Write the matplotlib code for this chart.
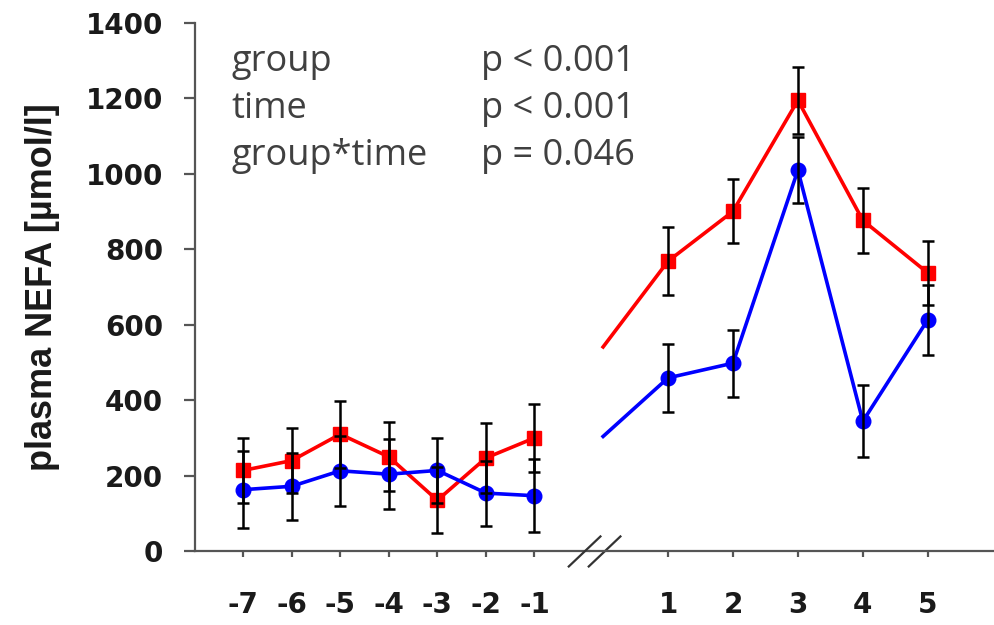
import numpy as np
import matplotlib
matplotlib.use('Agg')
import matplotlib.pyplot as plt

plt.rcParams['axes.unicode_minus'] = False

# time points (0 after the break is only the start of the line, no marker)
x_pre = [-7, -6, -5, -4, -3, -2, -1]
x_post = [0, 1, 2, 3, 4, 5]

# red group
red_pre = [214, 240, 310, 250, 135, 247, 300]
red_pre_err = [86, 86, 89, 91, 87, 93, 91]
red_post = [541, 768, 900, 1194, 876, 737]
red_post_err = [90, 85, 88, 87, 84]

# blue group
blue_pre = [163, 172, 213, 204, 214, 154, 147]
blue_pre_err = [102, 89, 93, 93, 86, 86, 96]
blue_post = [304, 459, 498, 1009, 344, 613]
blue_post_err = [90, 89, 88, 95, 93]

yticks = [0, 200, 400, 600, 800, 1000, 1200, 1400]
stats = [('group', 'p < 0.001'), ('time', 'p < 0.001'), ('group*time', 'p = 0.046')]

AXC = '#555555'
TXT = '#404040'
TICKFONT = dict(family='DejaVu Sans', weight='bold', size=20)

fig = plt.figure(figsize=(9.94, 6.25), dpi=100)
ax1 = fig.add_axes([0.196, 0.118, 0.397, 0.846])
ax2 = fig.add_axes([0.594, 0.118, 0.406, 0.846], sharey=ax1)
for ax in (ax1, ax2):
    ax.patch.set_visible(False)
    ax.spines['top'].set_visible(False)
    ax.spines['right'].set_visible(False)
    ax.spines['bottom'].set_color(AXC)
    ax.spines['bottom'].set_linewidth(1.6)
    ax.tick_params(axis='x', direction='out', length=4.5, width=1.6,
                   color=AXC, pad=24)
ax1.spines['left'].set_color(AXC)
ax1.spines['left'].set_linewidth(1.6)
ax2.spines['left'].set_visible(False)
ax1.tick_params(axis='y', direction='out', length=8, width=1.6, color=AXC, pad=15)
ax2.tick_params(axis='y', left=False, labelleft=False)

line_kw = dict(lw=2.6, zorder=2)
err_kw = dict(fmt='none', ecolor='black', elinewidth=1.8, capsize=4, capthick=1.8, zorder=3)

# before the break
ax1.plot(x_pre, red_pre, color='#ff0000', marker='s', ms=10, **line_kw)
ax1.plot(x_pre, blue_pre, color='#0000ff', marker='o', ms=10.5, **line_kw)
ax1.errorbar(x_pre, red_pre, yerr=red_pre_err, **err_kw)
ax1.errorbar(x_pre, blue_pre, yerr=blue_pre_err, **err_kw)

# after the break
ax2.plot(x_post, red_post, color='#ff0000', marker='s', ms=10,
         markevery=list(range(1, len(x_post))), **line_kw)
ax2.plot(x_post, blue_post, color='#0000ff', marker='o', ms=10.5,
         markevery=list(range(1, len(x_post))), **line_kw)
ax2.errorbar(x_post[1:], red_post[1:], yerr=red_post_err, **err_kw)
ax2.errorbar(x_post[1:], blue_post[1:], yerr=blue_post_err, **err_kw)

ax1.set_xlim(-7.994, 0.132)
ax2.set_xlim(-0.195, 6.02)
ax1.set_ylim(0, 1400)
ax1.set_yticks(yticks)
ax1.set_xticks(x_pre)
ax2.set_xticks(x_post[1:])
for ax in (ax1, ax2):
    for lab in ax.get_xticklabels() + ax.get_yticklabels():
        lab.set(**TICKFONT)
        lab.set_color('#1a1a1a')

ax1.set_ylabel('plasma NEFA [µmol/l]', fontsize=26, fontweight='bold',
               family=['Liberation Sans', 'DejaVu Sans'], color='#1a1a1a')
ax1.yaxis.set_label_coords(-0.342, 0.5)

# axis break marks
d = dict(transform=ax2.transAxes, color='#333333', lw=1.6, clip_on=False)
ax2.plot([-0.0537, 0.0248], [-0.0288, 0.028], **d)
ax2.plot([-0.0042, 0.0743], [-0.0288, 0.028], **d)

# statistics
for i, (name, p) in enumerate(stats):
    yy = 0.908 - i * 0.0885
    ax1.text(0.093, yy, name, transform=ax1.transAxes, fontsize=26,
             family='Open Sans', color=TXT, va='baseline')
    ax1.text(0.726, yy, p, transform=ax1.transAxes, fontsize=26,
             family='Open Sans', color=TXT, va='baseline')

plt.savefig('out.png', dpi=100)
